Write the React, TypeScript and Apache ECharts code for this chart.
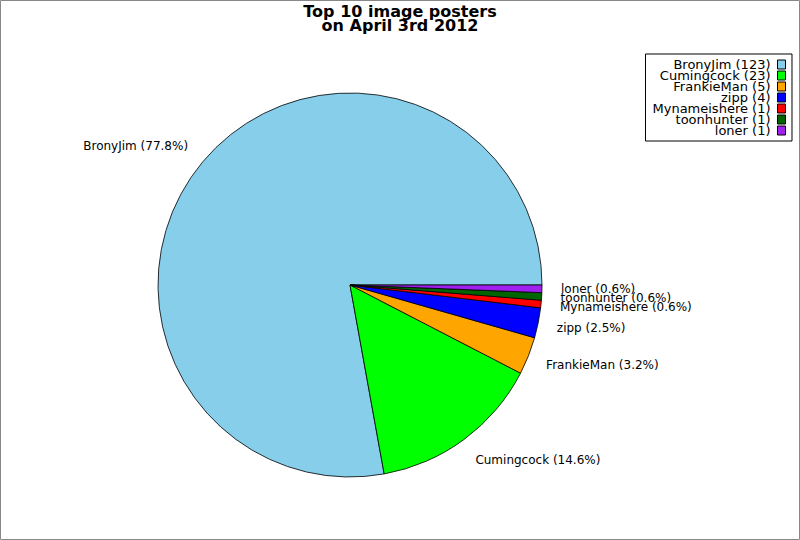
import React, { useEffect, useRef } from "react";
import * as echarts from "echarts";

const names = ["BronyJim", "Cumingcock", "FrankieMan", "zipp", "Mynameishere", "toonhunter", "loner"];
const counts = [123, 23, 5, 4, 1, 1, 1];
const colors = ["#87CEEB", "#00FF00", "#FFA500", "#0000FF", "#FF0000", "#006400", "#A020F0"];
const titleText = "Top 10 image posters\non April 3rd 2012";

export default function App() {
  const ref = useRef<HTMLDivElement>(null);
  useEffect(() => {
    if (!ref.current) return;
    const chart = echarts.init(ref.current, null, { renderer: "svg" });
    const total = counts.reduce((a, b) => a + b, 0);
    const font = "DejaVu Sans";
    const cy = 285;
    chart.setOption({
      animation: false,
      backgroundColor: "#fff",
      title: {
        text: titleText,
        left: "center",
        top: 4,
        padding: 0,
        textStyle: { fontFamily: font, fontSize: 16, fontWeight: "bold", color: "#000", lineHeight: 14 },
      },
      legend: {
        orient: "vertical",
        align: "right",
        right: 8,
        top: 54,
        padding: [4, 6, 4, 7],
        itemGap: -2,
        itemWidth: 8,
        itemHeight: 9,
        icon: "rect",
        borderColor: "#000",
        borderWidth: 1,
        borderRadius: 0,
        backgroundColor: "#fff",
        itemStyle: { borderColor: "#000", borderWidth: 1 },
        textStyle: { fontFamily: font, fontSize: 13, color: "#000", padding: [0, 2, 0, 0] },
        formatter: (n: string) => `${n} (${counts[names.indexOf(n)]})`,
        data: names,
      },
      graphic: [
        {
          type: "rect",
          shape: { x: 0.5, y: 0.5, width: 799, height: 539 },
          style: { fill: "none", stroke: "#888", lineWidth: 1 },
          silent: true,
        },
      ],
      series: [
        {
          type: "pie",
          center: [350, cy],
          radius: 192,
          startAngle: 0,
          clockwise: false,
          avoidLabelOverlap: false,
          minShowLabelAngle: 0,
          data: names.map((n, i) => ({ name: n, value: counts[i], itemStyle: { color: colors[i] } })),
          itemStyle: { borderColor: "#000", borderWidth: 0.8 },
          label: {
            show: true,
            position: "outside",
            fontFamily: font,
            fontSize: 12,
            color: "#000",
            distanceToLabelLine: 0,
            formatter: (p: any) => `${p.name} (${((p.value / total) * 100).toFixed(1)}%)`,
          },
          labelLine: { show: false, length: 19, length2: 0 },
          labelLayout: (p: any) => {
            const mid = p.labelRect.y + p.labelRect.height / 2;
            return { hideOverlap: false, dy: (mid - cy) * 0.03 };
          },
          emphasis: { disabled: true },
        },
      ],
    });
    return () => chart.dispose();
  }, []);
  return (
    <div
      ref={ref}
      style={{ position: "absolute", left: 0, top: 0, width: 800, height: 540, background: "#fff" }}
    />
  );
}
